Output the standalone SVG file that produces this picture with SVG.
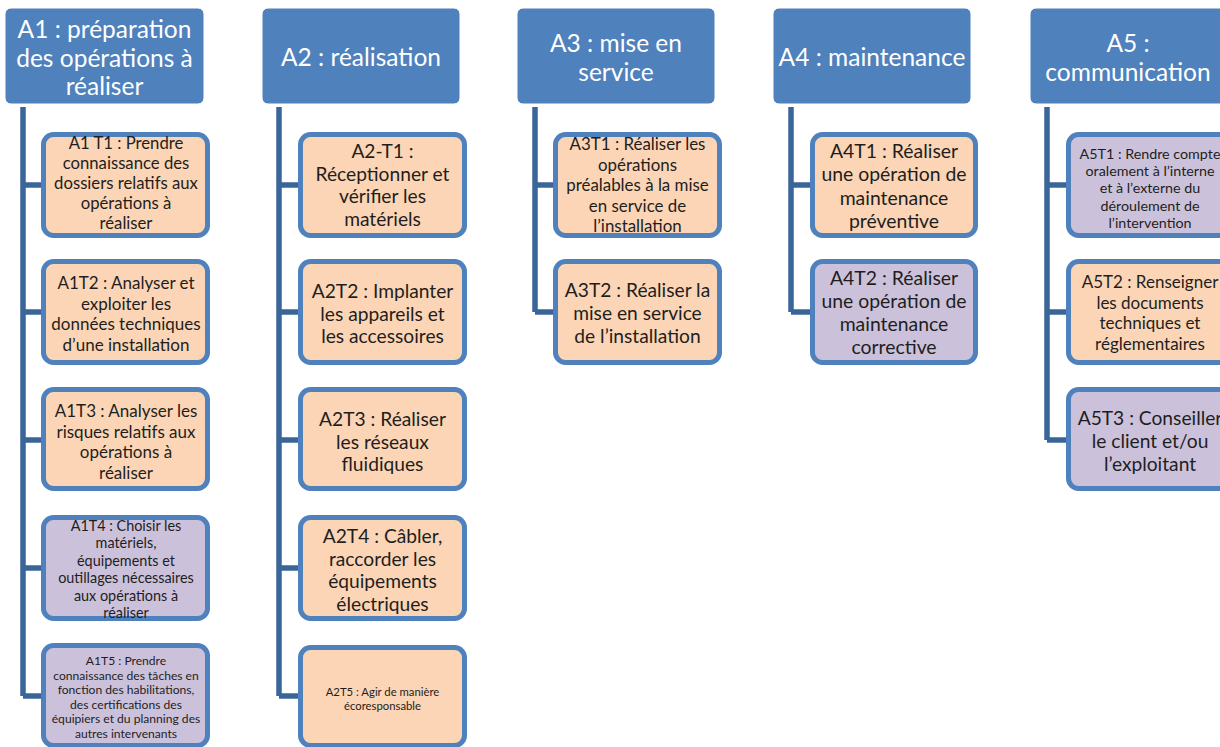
<svg xmlns="http://www.w3.org/2000/svg" width="1220" height="747" viewBox="0 0 1220 747">
<style>
.hdr{fill:#4f81bd;stroke:#ffffff;stroke-width:1}
.hdr-t{fill:#ffffff;font-family:Lato,"Open Sans",sans-serif;font-size:24.5px;text-anchor:middle;dominant-baseline:central}
.peach{fill:#fbd5b5;stroke:#4f81bd;stroke-width:5}
.purple{fill:#ccc1da;stroke:#4f81bd;stroke-width:5}
.t{fill:#1e1e1e;font-family:Lato,"Open Sans",sans-serif;text-anchor:middle;dominant-baseline:central}
.conn{stroke:#3a6599;stroke-width:5.5;fill:none}
</style>
<rect width="1220" height="747" fill="#ffffff"/>
<g id="connectors">
<path class="conn" d="M23,107 V696 M23,185 H42 M23,312 H42 M23,440 H42 M23,568 H42 M23,696 H42"/>
<path class="conn" d="M279,107 V696 M279,185 H299 M279,312 H299 M279,440 H299 M279,568 H299 M279,696 H299"/>
<path class="conn" d="M535,107 V312 M535,185 H554 M535,312 H554"/>
<path class="conn" d="M791,107 V312 M791,185 H811 M791,312 H811"/>
<path class="conn" d="M1047,107 V440 M1047,185 H1067 M1047,312 H1067 M1047,440 H1067"/>
</g>
<g id="A1">
<rect class="hdr" x="5" y="8" width="199" height="96" rx="6"/>
<text class="hdr-t"><tspan x="104.5" y="28">A1 : préparation</tspan><tspan x="104.5" y="57">des opérations à</tspan><tspan x="104.5" y="85">réaliser</tspan></text>
</g>
<g id="A1T1">
<rect class="peach" x="43.5" y="134.5" width="164" height="101" rx="10"/>
<text class="t" font-size="16.7"><tspan x="126" y="143">A1 T1 : Prendre</tspan><tspan x="126" y="163">connaissance des</tspan><tspan x="126" y="183">dossiers relatifs aux</tspan><tspan x="126" y="203">opérations à</tspan><tspan x="126" y="223">réaliser</tspan></text>
</g>
<g id="A1T2">
<rect class="peach" x="43.5" y="261.5" width="164" height="101" rx="10"/>
<text class="t" font-size="17"><tspan x="126" y="282">A1T2 : Analyser et</tspan><tspan x="126" y="302.5">exploiter les</tspan><tspan x="126" y="323">données techniques</tspan><tspan x="126" y="343.5">d’une installation</tspan></text>
</g>
<g id="A1T3">
<rect class="peach" x="43.5" y="389.5" width="164" height="99" rx="10"/>
<text class="t" font-size="17"><tspan x="126" y="410">A1T3 : Analyser les</tspan><tspan x="126" y="430.5">risques relatifs aux</tspan><tspan x="126" y="451">opérations à</tspan><tspan x="126" y="471.5">réaliser</tspan></text>
</g>
<g id="A1T4">
<rect class="purple" x="43.5" y="517.5" width="164" height="101" rx="10"/>
<text class="t" font-size="14.4"><tspan x="126" y="525">A1T4 : Choisir les</tspan><tspan x="126" y="542.4">matériels,</tspan><tspan x="126" y="559.8">équipements et</tspan><tspan x="126" y="577.2">outillages nécessaires</tspan><tspan x="126" y="594.6">aux opérations à</tspan><tspan x="126" y="612">réaliser</tspan></text>
</g>
<g id="A1T5">
<rect class="purple" x="43.5" y="645.5" width="164" height="100" rx="10"/>
<text class="t" font-size="12.1"><tspan x="126" y="660">A1T5 : Prendre</tspan><tspan x="126" y="674.6">connaissance des tâches en</tspan><tspan x="126" y="689.2">fonction des habilitations,</tspan><tspan x="126" y="703.8">des certifications des</tspan><tspan x="126" y="718.4">équipiers et du planning des</tspan><tspan x="126" y="733">autres intervenants</tspan></text>
</g>
<g id="A2">
<rect class="hdr" x="262" y="8" width="198" height="96" rx="6"/>
<text class="hdr-t"><tspan x="361" y="56">A2 : réalisation</tspan></text>
</g>
<g id="A2T1">
<rect class="peach" x="300.5" y="134.5" width="164" height="101" rx="10"/>
<text class="t" font-size="19.2"><tspan x="382.5" y="150">A2-T1 :</tspan><tspan x="382.5" y="172.7">Réceptionner et</tspan><tspan x="382.5" y="195.3">vérifier les</tspan><tspan x="382.5" y="218">matériels</tspan></text>
</g>
<g id="A2T2">
<rect class="peach" x="300.5" y="261.5" width="164" height="101" rx="10"/>
<text class="t" font-size="19.2"><tspan x="382.5" y="290">A2T2 : Implanter</tspan><tspan x="382.5" y="312.7">les appareils et</tspan><tspan x="382.5" y="335.4">les accessoires</tspan></text>
</g>
<g id="A2T3">
<rect class="peach" x="300.5" y="389.5" width="164" height="99" rx="10"/>
<text class="t" font-size="19.2"><tspan x="382.5" y="418">A2T3 : Réaliser</tspan><tspan x="382.5" y="440.7">les réseaux</tspan><tspan x="382.5" y="463.4">fluidiques</tspan></text>
</g>
<g id="A2T4">
<rect class="peach" x="300.5" y="517.5" width="164" height="101" rx="10"/>
<text class="t" font-size="19.2"><tspan x="382.5" y="535">A2T4 : Câbler,</tspan><tspan x="382.5" y="557.7">raccorder les</tspan><tspan x="382.5" y="580.4">équipements</tspan><tspan x="382.5" y="603.1">électriques</tspan></text>
</g>
<g id="A2T5">
<rect class="peach" x="300.5" y="647.5" width="164" height="98" rx="10"/>
<text class="t" font-size="11.3"><tspan x="382.5" y="691">A2T5 : Agir de manière</tspan><tspan x="382.5" y="704.8">écoresponsable</tspan></text>
</g>
<g id="A3">
<rect class="hdr" x="517" y="8" width="198" height="96" rx="6"/>
<text class="hdr-t"><tspan x="616" y="42">A3 : mise en</tspan><tspan x="616" y="70.5">service</tspan></text>
</g>
<g id="A3T1">
<rect class="peach" x="555.5" y="134.5" width="164" height="101" rx="10"/>
<text class="t" font-size="16.9"><tspan x="637.5" y="143">A3T1 : Réaliser les</tspan><tspan x="637.5" y="163.5">opérations</tspan><tspan x="637.5" y="184">préalables à la mise</tspan><tspan x="637.5" y="204.5">en service de</tspan><tspan x="637.5" y="225">l’installation</tspan></text>
</g>
<g id="A3T2">
<rect class="peach" x="555.5" y="261.5" width="164" height="101" rx="10"/>
<text class="t" font-size="19.2"><tspan x="637.5" y="289">A3T2 : Réaliser la</tspan><tspan x="637.5" y="312">mise en service</tspan><tspan x="637.5" y="335">de l’installation</tspan></text>
</g>
<g id="A4">
<rect class="hdr" x="773" y="8" width="198" height="96" rx="6"/>
<text class="hdr-t"><tspan x="872" y="56">A4 : maintenance</tspan></text>
</g>
<g id="A4T1">
<rect class="peach" x="812.5" y="134.5" width="163" height="101" rx="10"/>
<text class="t" font-size="19.4"><tspan x="894" y="150">A4T1 : Réaliser</tspan><tspan x="894" y="173.3">une opération de</tspan><tspan x="894" y="196.6">maintenance</tspan><tspan x="894" y="219.9">préventive</tspan></text>
</g>
<g id="A4T2">
<rect class="purple" x="812.5" y="261.5" width="163" height="101" rx="10"/>
<text class="t" font-size="19.4"><tspan x="894" y="276.5">A4T2 : Réaliser</tspan><tspan x="894" y="299.8">une opération de</tspan><tspan x="894" y="323.1">maintenance</tspan><tspan x="894" y="346.4">corrective</tspan></text>
</g>
<g id="A5">
<rect class="hdr" x="1030" y="8" width="198" height="96" rx="6"/>
<text class="hdr-t"><tspan x="1128" y="42">A5 :</tspan><tspan x="1128" y="70.5">communication</tspan></text>
</g>
<g id="A5T1">
<rect class="purple" x="1068.5" y="134.5" width="164" height="101" rx="10"/>
<text class="t" font-size="14.3"><tspan x="1150" y="153">A5T1 : Rendre compte</tspan><tspan x="1150" y="170.2">oralement à l’interne</tspan><tspan x="1150" y="187.4">et à l’externe du</tspan><tspan x="1150" y="204.6">déroulement de</tspan><tspan x="1150" y="221.8">l’intervention</tspan></text>
</g>
<g id="A5T2">
<rect class="peach" x="1068.5" y="261.5" width="164" height="101" rx="10"/>
<text class="t" font-size="17"><tspan x="1150" y="281">A5T2 : Renseigner</tspan><tspan x="1150" y="301.5">les documents</tspan><tspan x="1150" y="322">techniques et</tspan><tspan x="1150" y="342.5">réglementaires</tspan></text>
</g>
<g id="A5T3">
<rect class="purple" x="1068.5" y="389.5" width="164" height="99" rx="10"/>
<text class="t" font-size="19.2"><tspan x="1150" y="417">A5T3 : Conseiller</tspan><tspan x="1150" y="440">le client et/ou</tspan><tspan x="1150" y="463">l’exploitant</tspan></text>
</g>
</svg>
